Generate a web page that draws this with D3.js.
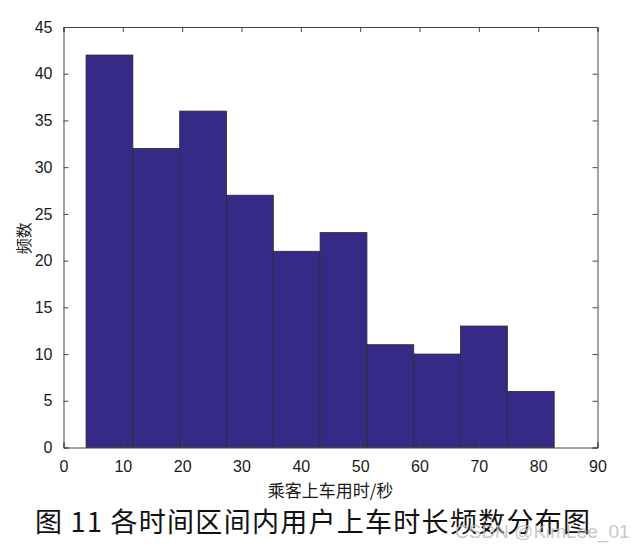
<!DOCTYPE html>
<html><head><meta charset="utf-8">
<script src="https://cdn.jsdelivr.net/npm/d3@7"></script>
<style>body{margin:0;background:#fff}</style>
</head><body>
<script>
const binEdges = [3.8, 11.69, 19.58, 27.47, 35.36, 43.25, 51.14, 59.03, 66.92, 74.81, 82.7];
const counts = [42, 32, 36, 27, 21, 23, 11, 10, 13, 6];
const xTicks = [0,10,20,30,40,50,60,70,80,90];
const yTicks = [0,5,10,15,20,25,30,35,40,45];
const xLabel = "乘客上车用时/秒";
const yLabel = "频数";
const caption = "图 11 各时间区间内用户上车时长频数分布图";
const watermark = "CSDN @KimLee_01";

const W = 631, H = 549;
const m = {l:63.5, t:27, r:597.5, b:447.5};
const svg = d3.select("body").append("svg").attr("width",W).attr("height",H);
const x = d3.scaleLinear().domain([0,90]).range([m.l,m.r]);
const y = d3.scaleLinear().domain([0,45]).range([m.b,m.t]);
const bins = counts.map((c,i)=>({x0:binEdges[i], x1:binEdges[i+1], c}));

svg.append("g").selectAll("rect").data(bins).join("rect")
  .attr("x",d=>x(d.x0)).attr("width",d=>x(d.x1)-x(d.x0))
  .attr("y",d=>y(d.c)).attr("height",d=>y(0)-y(d.c))
  .attr("fill","#352a86").attr("stroke","#2b2b2b").attr("stroke-width",0.8);

const axCol = "#444";
const font = "'Liberation Sans', Arial, sans-serif";
const tl = 5;
const gx = svg.append("g").attr("transform",`translate(0,${m.b})`)
  .call(d3.axisBottom(x).tickValues(xTicks).tickSize(-tl).tickPadding(13));
const gxt = svg.append("g").attr("transform",`translate(0,${m.t})`)
  .call(d3.axisTop(x).tickValues(xTicks).tickSize(-tl).tickFormat(""));
const gy = svg.append("g").attr("transform",`translate(${m.l},0)`)
  .call(d3.axisLeft(y).tickValues(yTicks).tickSize(-tl).tickPadding(11));
const gyr = svg.append("g").attr("transform",`translate(${m.r},0)`)
  .call(d3.axisRight(y).tickValues(yTicks).tickSize(-tl).tickFormat(""));
[gx,gxt,gy,gyr].forEach(g=>{
  g.selectAll("path").attr("stroke",axCol).attr("stroke-width",1);
  g.selectAll("line").attr("stroke",axCol).attr("stroke-width",1);
  g.selectAll("text").attr("fill","#1a1a1a").attr("font-family",font).attr("font-size",16);
});

svg.append("text").attr("x",(m.l+m.r)/2).attr("y",497).attr("text-anchor","middle")
  .attr("font-family","'Noto Sans CJK SC', sans-serif").attr("font-size",17).attr("fill","#1a1a1a").text(xLabel);
svg.append("text").attr("transform",`translate(30,${(m.t+m.b)/2 + 1}) rotate(-90)`).attr("text-anchor","middle")
  .attr("font-family","'Noto Sans CJK SC', sans-serif").attr("font-size",16).attr("fill","#1a1a1a").text(yLabel);
svg.append("text").attr("x",35).attr("y",532)
  .attr("font-family","'Noto Sans CJK SC', sans-serif").attr("font-size",27).attr("fill","#111")
  .attr("textLength",555).attr("lengthAdjust","spacing").text(caption);
svg.append("text").attr("x",455).attr("y",538)
  .attr("font-family",font).attr("font-size",19).attr("fill","#bbb").attr("opacity",0.8).text(watermark);
</script>
</body></html>
